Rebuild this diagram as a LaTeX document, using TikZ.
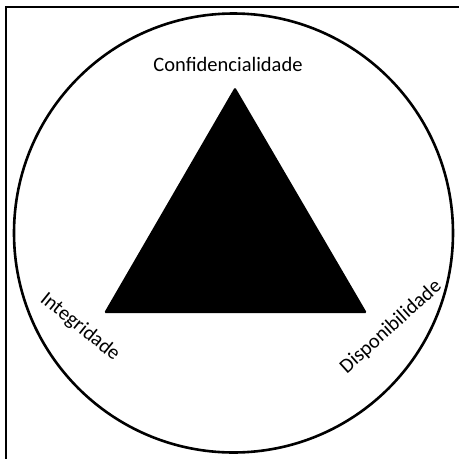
\documentclass[tikz,border=0pt]{standalone}
\usepackage{fontspec}
\setmainfont{Carlito}
\usetikzlibrary{positioning}

\begin{document}
\begin{tikzpicture}[x=1pt, y=-1pt,
  ring/.style={draw, circle, line width=2.6pt, minimum size=439pt, inner sep=0pt},
  lbl/.style={font=\fontsize{20.5}{24}\selectfont, inner sep=0pt}]
\useasboundingbox (0,0) rectangle (459,459);
% frame (top and left edge only)
\draw[line width=2.4pt] (6,459) -- (6,7) -- (459,7);
\node[ring] (cir) at (233.5,233) {};
% triangle
\coordinate (top) at (235,87);
\coordinate (bl) at (104,313);
\coordinate (br) at (367,313);
\fill[rounded corners=1.5pt] (top) -- (br) -- (bl) -- cycle;
\node[lbl, anchor=base] (conf) at (228,71.5) {Confidencialidade};
\node[lbl, rotate=-39] (integ) at (80,327) {Integridade};
\node[lbl, rotate=42] (disp) at (391,327) {Disponibilidade};
\end{tikzpicture}
\end{document}
